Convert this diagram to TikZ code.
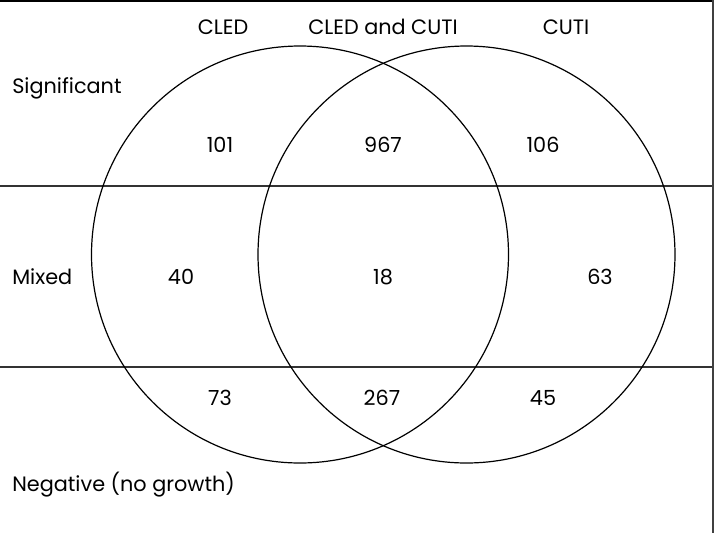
\documentclass[tikz,border=0pt]{standalone}
\usepackage{fontspec}
\setmainfont{Poppins}
\begin{document}
\begin{tikzpicture}[x=0.75pt,y=-0.75pt,
  lbl/.style={font=\fontsize{15.6}{18}\selectfont, inner sep=0pt},
  circ/.style={draw=black, line width=0.9pt},
  rule/.style={draw=black!80, line width=1pt}]
\useasboundingbox (0,0) rectangle (714,533);
\draw[line width=1.5pt] (0,0.8) -- (713,0.8);
\draw[line width=1.5pt,black!75] (712.5,0) -- (712.5,533);
\coordinate (h1l) at (0,186); \coordinate (h1r) at (712,186);
\coordinate (h2l) at (0,367); \coordinate (h2r) at (712,367);
\draw[rule] (h1l) -- (h1r);
\draw[rule] (h2l) -- (h2r);
\node[circ, circle, minimum size=417*0.75pt, inner sep=0pt] (cl) at (300,254.5) {};
\node[circ, circle, minimum size=417*0.75pt, inner sep=0pt] (cr) at (466.5,254.5) {};
\node[lbl] (t1) at (223,27) {CLED};
\node[lbl] (t2) at (383,27) {CLED and CUTI};
\node[lbl] (t3) at (566,27) {CUTI};
\node[lbl, anchor=west] (s) at (12,88) {Significant};
\node[lbl, anchor=west] (m) at (12,277) {Mixed};
\node[lbl, anchor=west] (n) at (12,485) {Negative (no growth)};
\node[lbl] (a1) at (220,145) {101};
\node[lbl] (a2) at (383,145) {967};
\node[lbl] (a3) at (543,145) {106};
\node[lbl] (b1) at (181,277) {40};
\node[lbl] (b2) at (383,277) {18};
\node[lbl] (b3) at (600,277) {63};
\node[lbl] (c1) at (220,398) {73};
\node[lbl] (c2) at (382,398) {267};
\node[lbl] (c3) at (543,398) {45};
\end{tikzpicture}
\end{document}
